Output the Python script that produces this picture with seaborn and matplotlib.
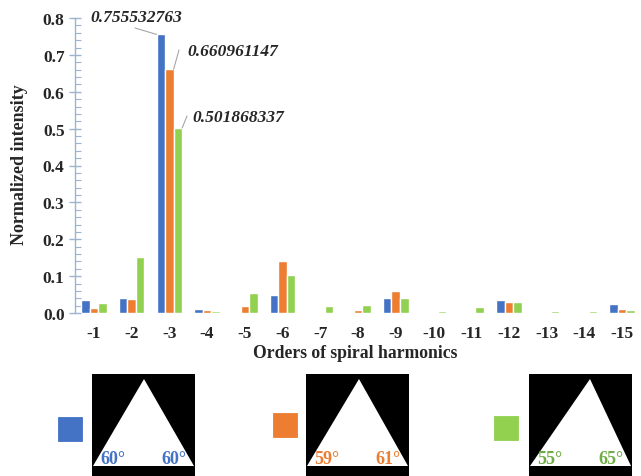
import matplotlib
matplotlib.use("Agg")
import matplotlib.pyplot as plt
import seaborn as sns
import pandas as pd
from matplotlib.patches import Rectangle, Polygon
from matplotlib.ticker import MultipleLocator, FormatStrFormatter

# Spiral harmonic orders and normalized intensities for three triangle shapes
orders = ["-1", "-2", "-3", "-4", "-5", "-6", "-7", "-8",
          "-9", "-10", "-11", "-12", "-13", "-14", "-15"]
tri_60_60 = [0.034, 0.040, 0.755532763, 0.010, 0.003, 0.050, 0.003, 0.003,
             0.040, 0.003, 0.004, 0.034, 0.003, 0.003, 0.024]
tri_59_61 = [0.013, 0.037, 0.660961147, 0.008, 0.020, 0.140, 0.004, 0.008,
             0.061, 0.003, 0.004, 0.029, 0.003, 0.003, 0.010]
tri_55_65 = [0.027, 0.151, 0.501868337, 0.006, 0.055, 0.102, 0.018, 0.022,
             0.040, 0.005, 0.016, 0.029, 0.005, 0.005, 0.007]

series_names = ["60-60", "59-61", "55-65"]
bar_colors = ["#4472C4", "#ED7D31", "#92D050"]
angle_colors = ["#4472C4", "#ED7D31", "#70AD47"]
angle_labels = [("60°", "60°"), ("59°", "61°"), ("55°", "65°")]
peak_order = "-3"

W, H = 641, 477
SERIF = ["Liberation Serif", "DejaVu Serif"]

sns.set_style("white")
plt.rcParams["font.family"] = SERIF
plt.rcParams["font.weight"] = "bold"

df = pd.DataFrame({
    "order": orders * 3,
    "value": tri_60_60 + tri_59_61 + tri_55_65,
    "series": sum([[s] * len(orders) for s in series_names], []),
})

fig = plt.figure(figsize=(W / 100, H / 100), dpi=100)
ax = fig.add_axes([75 / W, 1 - 314 / H, (W - 75) / W, (314 - 19) / H])

sns.barplot(data=df, x="order", y="value", hue="series", order=orders,
            hue_order=series_names, palette=bar_colors, saturation=1,
            width=0.68, errorbar=None, legend=False, ax=ax)

axis_color = "#9DB3CF"
ax.set_ylim(0, 0.8)
ax.set_xlim(-0.5, len(orders) - 0.5)
ax.yaxis.set_major_locator(MultipleLocator(0.1))
ax.yaxis.set_minor_locator(MultipleLocator(0.02))
ax.yaxis.set_major_formatter(FormatStrFormatter("%.1f"))
for side in ("top", "right", "bottom"):
    ax.spines[side].set_visible(False)
ax.spines["left"].set_color(axis_color)
ax.spines["left"].set_linewidth(1.0)
ax.tick_params(axis="y", which="major", direction="inout", length=9,
               width=1.0, color=axis_color, left=True, labelsize=12.5, pad=3)
ax.tick_params(axis="y", which="minor", direction="in", length=4,
               width=0.8, color=axis_color, left=True)
ax.tick_params(axis="x", length=0, labelsize=12.5, pad=9)
for lab in ax.get_xticklabels() + ax.get_yticklabels():
    lab.set_fontweight("bold")

ax.set_xlabel("Orders of spiral harmonics", fontsize=12.7, fontweight="bold")
ax.set_ylabel("Normalized intensity", fontsize=13, fontweight="bold")
ax.xaxis.set_label_coords(0.495, (314 - 353) / 295)
ax.xaxis.label.set_va("center")
ax.yaxis.set_label_coords((20 - 75) / 566, (314 - 165) / 295)
ax.yaxis.label.set_va("center")


def fig_px(x, y):
    return (x / W, 1 - y / H)


# Value callouts for the dominant order
peak_idx = orders.index(peak_order)
peak_vals = [tri_60_60[peak_idx], tri_59_61[peak_idx], tri_55_65[peak_idx]]
text_pos = [(136, 18), (233, 52), (238, 118)]
line_start = [(135, 29), (179, 51), (187, 117)]
corner = [0.0, 1.0, 1.0]
for k, val in enumerate(peak_vals):
    bar = ax.containers[k][peak_idx]
    bx = bar.get_x() + corner[k] * bar.get_width()
    ax.annotate("", xy=(bx, bar.get_height()), xycoords="data",
                xytext=fig_px(*line_start[k]), textcoords="figure fraction",
                arrowprops=dict(arrowstyle="-", color="#A6A6A6", lw=0.8,
                                shrinkA=0, shrinkB=0))
    fig.text(*fig_px(*text_pos[k]), f"{val:.9f}", ha="center", va="center",
             fontsize=12.5, fontweight="bold", fontstyle="italic")

# Legend row: colour key next to each triangle aperture
ov = fig.add_axes([0, 0, 1, 1])
ov.set_xlim(0, W)
ov.set_ylim(H, 0)
ov.axis("off")
ov.patch.set_visible(False)

squares = [(58, 418), (273, 414), (494, 417)]
boxes = [92, 306, 529]
apex_x = [144, 359, 590]
for k in range(3):
    sx, sy = squares[k]
    ov.add_patch(Rectangle((sx, sy), 23.5, 23.5, facecolor=bar_colors[k],
                           edgecolor=bar_colors[k], lw=0.6))
    bx = boxes[k]
    ov.add_patch(Rectangle((bx, 375), 103, 102, facecolor="black",
                           edgecolor="none"))
    ov.add_patch(Polygon([(bx + 1, 467), (apex_x[k], 380), (bx + 102, 467)],
                         closed=True, facecolor="white", edgecolor="none"))
    left_lab, right_lab = angle_labels[k]
    ov.text(bx + 21, 460, left_lab, ha="center", va="center", fontsize=13,
            fontweight="bold", color=angle_colors[k])
    ov.text(bx + 82, 460, right_lab, ha="center", va="center", fontsize=13,
            fontweight="bold", color=angle_colors[k])

fig.savefig("out.png", dpi=100)
